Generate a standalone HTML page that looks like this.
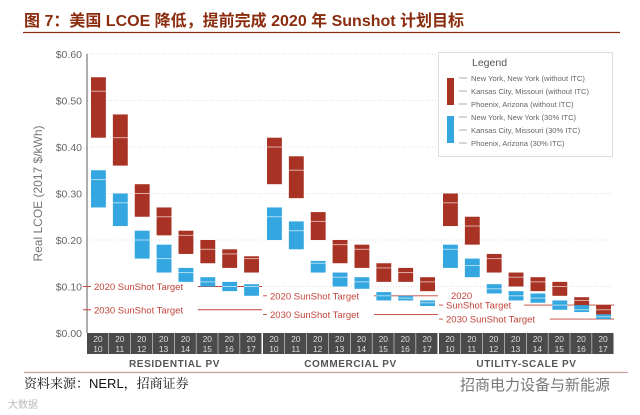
<!DOCTYPE html>
<html><head><meta charset="utf-8"><style>
body{margin:0;background:#fff;width:640px;height:415px;overflow:hidden}
svg{display:block}
</style></head><body>
<svg id="c" width="640" height="415" xmlns="http://www.w3.org/2000/svg" font-family="Liberation Sans, DejaVu Sans, sans-serif">
<text x="24" y="26" font-size="16" font-weight="bold" fill="#8b2c0f" font-family="Liberation Sans, Noto Sans CJK SC, sans-serif">图 7：美国 LCOE 降低，提前完成 2020 年 Sunshot 计划目标</text>
<line x1="23" y1="32.5" x2="620" y2="32.5" stroke="#8b2c0f" stroke-width="1.2"/>
<g id="plot"></g>
<line x1="24" y1="372.5" x2="628" y2="372.5" stroke="#c9a0a0" stroke-width="1.2"/>
<text x="24" y="388" font-size="13" fill="#111" font-family="Liberation Sans, Noto Serif CJK SC, serif">资料来源：NERL，招商证券</text>
<text x="460" y="390" font-size="15" fill="#777" font-family="Noto Sans CJK SC, sans-serif">招商电力设备与新能源</text>
<text x="8" y="408" font-size="10" fill="#bbb" font-family="Noto Sans CJK SC, sans-serif">大数据</text>
</svg>
<script>
const groups=["RESIDENTIAL PV","COMMERCIAL PV","UTILITY-SCALE PV"];
const years=["2010","2011","2012","2013","2014","2015","2016","2017"];
const yTicks=[0,0.1,0.2,0.3,0.4,0.5,0.6];
const redTop=[[.55,.47,.32,.27,.22,.20,.18,.165],[.42,.38,.26,.20,.19,.15,.14,.12],[.30,.25,.17,.13,.12,.11,.077,.06]];
const redMid=[[.52,.42,.30,.25,.21,.18,.17,.16],[.40,.35,.24,.19,.18,.14,.13,.11],[.28,.23,.16,.12,.11,.10,.07,.05]];
const redBot=[[.42,.36,.25,.21,.17,.15,.14,.13],[.32,.29,.20,.15,.14,.11,.11,.09],[.23,.19,.13,.10,.09,.08,.058,.04]];
const blueTop=[[.35,.30,.22,.19,.14,.12,.11,.105],[.27,.24,.155,.13,.12,.088,.08,.07],[.19,.16,.105,.09,.085,.07,.06,.04]];
const blueMid=[[.33,.28,.20,.16,.13,.11,.10,.10],[.25,.22,.15,.12,.11,.08,.075,.065],[.18,.145,.095,.08,.075,.06,.05,.035]];
const blueBot=[[.27,.23,.16,.13,.11,.10,.09,.08],[.20,.18,.13,.10,.095,.07,.07,.058],[.14,.12,.085,.07,.065,.05,.045,.03]];
const target2020=[0.10,0.08,0.06];
const target2030=[0.05,0.04,0.03];
const legendLabels=["New York, New York (without ITC)","Kansas City, Missouri (without ITC)","Phoenix, Arizona (without ITC)","New York, New York (30% ITC)","Kansas City, Missouri (30% ITC)","Phoenix, Arizona (30% ITC)"];

const NS="http://www.w3.org/2000/svg";
const P=document.getElementById('plot');
const X0=87,GW=175,GS=176,Y0=333,YS=465;
const y=v=>Y0-v*YS;
const gx=g=>X0+g*GS;
const sx=(g,i)=>gx(g)+i*(GW/8);
function mk(t,a,txt){const e=document.createElementNS(NS,t);for(const k in a)e.setAttribute(k,a[k]);if(txt!=null)e.textContent=txt;P.appendChild(e);return e;}
const RED="#a83224",BLUE="#34a7e0",TC="#c0443a";

yTicks.forEach((t,i)=>{
  if(t>0){const gl=mk('line',{x1:X0,x2:612,y1:y(t),y2:y(t),stroke:'#ddd','stroke-dasharray':'1 2'});
  }
  const l=mk('text',{x:X0-5,y:y(t)+4,'text-anchor':'end','font-size':10.5,fill:'#666'},'$'+t.toFixed(2));
  
});
const ax=mk('line',{x1:X0,x2:X0,y1:y(0.6),y2:Y0,stroke:'#777','stroke-width':1.2});

const yt=mk('text',{x:0,y:0,transform:`translate(42,${y(0.3)}) rotate(-90)`,'text-anchor':'middle','font-size':12,fill:'#777'},'Real LCOE (2017 $/kWh)');


groups.forEach((gn,g)=>{
  // targets
  const tl=[[target2020[g],g==2?'SunShot Target':'2020 SunShot Target'],[target2030[g],'2030 SunShot Target']];
  tl.forEach(([v,lab],k)=>{
    const ln=mk('line',{x1:gx(g)-(g==0?4:0),x2:gx(g)+GW,y1:y(v),y2:y(v),stroke:TC,'stroke-width':0.9});
    
    const w=lab.length*5.2+8;
    const bg=mk('rect',{x:gx(g)+4,y:y(v)-5,width:w,height:10,fill:'#fff'});
    
    const tx=mk('text',{x:gx(g)+7,y:y(v)+3.5,'font-size':9.5,fill:TC},lab);
    
  });
  if(g==2){const t2=mk('text',{x:gx(g)+12,y:y(target2020[g])-6,'font-size':9.5,fill:TC},'2020');
    }
  years.forEach((yr,i)=>{
    const bx=sx(g,i)+4,bw=GW/8-7;
    [[redTop,redMid,redBot,RED],[blueTop,blueMid,blueBot,BLUE]].forEach(([T,M,B,c])=>{
      const r=mk('rect',{x:bx,y:y(T[g][i]),width:bw,height:y(B[g][i])-y(T[g][i]),fill:c});
      
      const m=mk('line',{x1:bx,x2:bx+bw,y1:y(M[g][i]),y2:y(M[g][i]),stroke:'#fff','stroke-opacity':0.6,'stroke-width':1});
      
    });
    const yb=mk('rect',{x:sx(g,i),y:Y0,width:GW/8-0.5,height:21,fill:'#4a4a4a'});
    
    const t1=mk('text',{x:sx(g,i)+GW/16,y:Y0+9,'text-anchor':'middle','font-size':8.5,fill:'#ddd'},yr.slice(0,2));
    
    const t2=mk('text',{x:sx(g,i)+GW/16,y:Y0+19,'text-anchor':'middle','font-size':8.5,fill:'#ddd'},yr.slice(2));
    
  });
  const gl=mk('text',{x:gx(g)+GW/2,y:367,'text-anchor':'middle','font-size':10,'font-weight':'bold',fill:'#555','letter-spacing':'0.6'},gn);
  
});

const lb=mk('rect',{x:438.5,y:52.5,width:174,height:104,fill:'#fff',stroke:'#ddd'});

const lt=mk('text',{x:472,y:66,'font-size':10.5,fill:'#555'},'Legend');

const s1=mk('rect',{x:447,y:78,width:7,height:27,fill:RED});

const s2=mk('rect',{x:447,y:116,width:7,height:27,fill:BLUE});

legendLabels.forEach((l,i)=>{
  const yy=78+i*13;
  const a=mk('line',{x1:459,x2:467,y1:yy,y2:yy,stroke:'#999','stroke-width':0.8});
  
  const t=mk('text',{x:471,y:yy+3,'font-size':7.6,fill:'#666'},l);
  
});
</script>
</body></html>
